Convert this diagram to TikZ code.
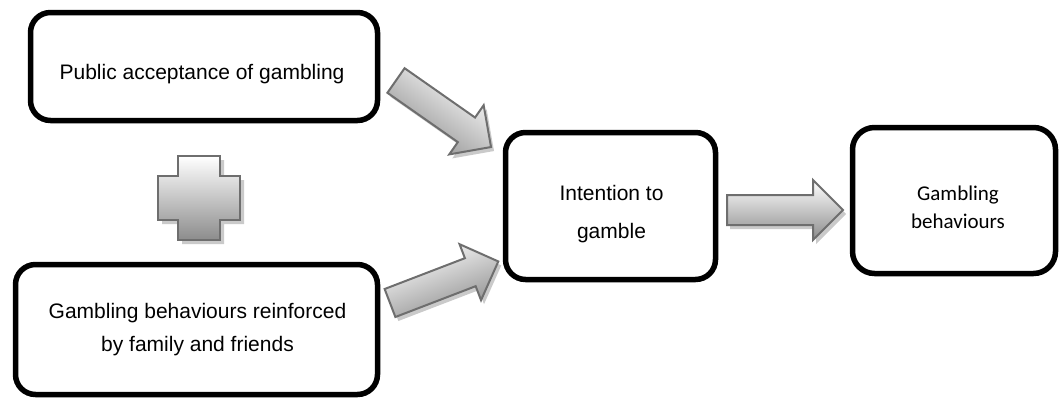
\documentclass[tikz,border=0pt]{standalone}
\usepackage{fontspec}
\setmainfont{Liberation Sans}
\newfontfamily\calibrifont{Carlito}
\usetikzlibrary{calc}
\definecolor{arrowline}{HTML}{6E6E6E}
\definecolor{arrowshade}{HTML}{8C8C8C}
\definecolor{shadowc}{HTML}{CACACA}
\tikzset{
  boxstyle/.style={draw=black, line width=5.5pt, rounded corners=20pt, fill=white, inner sep=0pt},
  txt/.style={align=center, inner sep=0pt, anchor=base},
  pics/blockarrow/.style={code={
    \path[draw=arrowline, line width=2pt, line join=miter, top color=white, bottom color=arrowshade, shading angle=#1]
      (0,-15) -- (86,-15) -- (86,-30) -- (116,0) -- (86,30) -- (86,15) -- (0,15) -- cycle;
  }},
  pics/blockshadow/.style={code={
    \fill[shadowc] (0,-15) -- (86,-15) -- (86,-30) -- (116,0) -- (86,30) -- (86,15) -- (0,15) -- cycle;
  }},
  plusshape/.style={draw=arrowline, line width=2pt, line join=miter, top color=white, bottom color=arrowshade},
}
\begin{document}
\begin{tikzpicture}[x=1pt,y=-1pt]
\useasboundingbox (0,0) rectangle (1059,399);

% coordinates of arrow tails
\coordinate (a1) at (396,80.5);
\coordinate (a2) at (390,303);
\coordinate (a3) at (727,210);

% shadows
\pic[rotate=-35] at ($(a1)+(3,4)$) {blockshadow};
\pic[rotate=21] at ($(a2)+(3,4)$) {blockshadow};
\pic at ($(a3)+(3,4)$) {blockshadow};
\fill[shadowc] (182,160) -- (224,160) -- (224,180) -- (244,180) -- (244,224) -- (224,224) -- (224,244)
  -- (182,244) -- (182,224) -- (162,224) -- (162,180) -- (182,180) -- cycle;

% block arrows
\pic[rotate=-35] at (a1) {blockarrow=-35};
\pic[rotate=21] at (a2) {blockarrow=21};
\pic at (a3) {blockarrow=0};

% plus sign
\path[plusshape] (178,156) -- (220,156) -- (220,176) -- (240,176) -- (240,220) -- (220,220) -- (220,240)
  -- (178,240) -- (178,220) -- (158,220) -- (158,176) -- (178,176) -- cycle;

% boxes
\node[boxstyle, minimum width=347pt, minimum height=108pt] (b1) at (204,66.5) {};
\node[boxstyle, minimum width=362pt, minimum height=130pt] (b2) at (196.5,329.5) {};
\node[boxstyle, minimum width=210pt, minimum height=147pt] (b3) at (610.5,206) {};
\node[boxstyle, rounded corners=22pt, minimum width=203pt, minimum height=146pt] (b4) at (954,200.5) {};

% texts (base anchor = baseline of the last line)
\node[txt, font=\fontsize{21}{25}\selectfont] (t1) at (202,79.3) {Public acceptance of gambling};
\node[txt, font=\fontsize{21}{33}\selectfont] (t2) at (197.5,351.7) {Gambling behaviours reinforced\\by family and friends};
\node[txt, font=\fontsize{21}{38}\selectfont] (t3) at (611.5,238) {Intention to\\gamble};
\node[txt, font=\calibrifont\fontsize{21}{28}\selectfont] (t4) at (958,228) {Gambling\\behaviours};
\end{tikzpicture}
\end{document}
